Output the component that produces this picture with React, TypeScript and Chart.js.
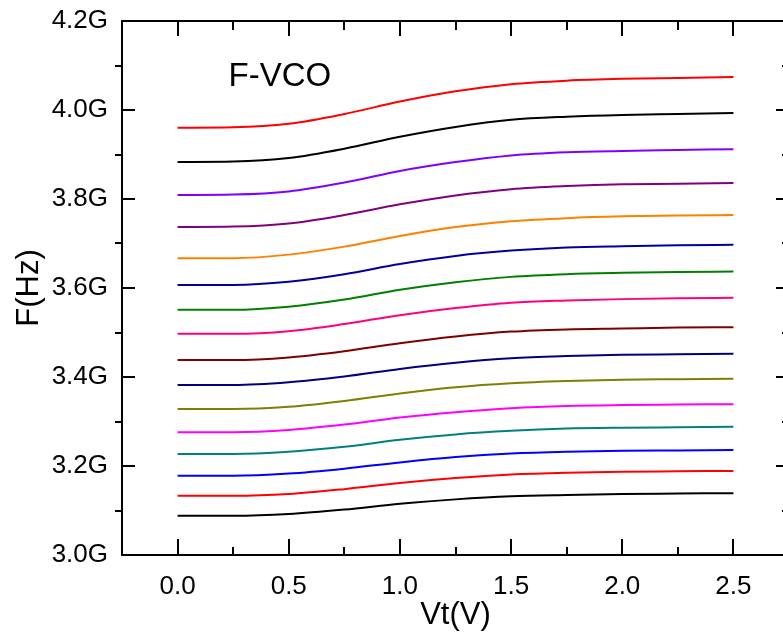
import { useEffect, useRef } from "react";
import { Chart, registerables } from "chart.js";

Chart.register(...registerables);

const FONT = "'Liberation Sans', Arial, Helvetica, sans-serif";

// Tuning voltage (V)
const vt = [0, 0.25, 0.5, 0.75, 1.0, 1.25, 1.5, 1.75, 2.0, 2.25, 2.5];

// Frequency curves in GHz (top to bottom)
const f01 = [3.960, 3.961, 3.969, 3.991, 4.019, 4.042, 4.058, 4.066, 4.070, 4.072, 4.074];
const f02 = [3.883, 3.884, 3.892, 3.913, 3.940, 3.962, 3.978, 3.985, 3.989, 3.991, 3.993];
const f03 = [3.809, 3.810, 3.817, 3.837, 3.863, 3.883, 3.898, 3.905, 3.908, 3.910, 3.912];
const f04 = [3.737, 3.738, 3.745, 3.764, 3.788, 3.808, 3.822, 3.829, 3.833, 3.834, 3.836];
const f05 = [3.667, 3.667, 3.675, 3.693, 3.717, 3.737, 3.750, 3.757, 3.761, 3.763, 3.764];
const f06 = [3.607, 3.607, 3.614, 3.631, 3.654, 3.672, 3.684, 3.691, 3.694, 3.696, 3.697];
const f07 = [3.551, 3.551, 3.558, 3.574, 3.596, 3.613, 3.625, 3.631, 3.634, 3.636, 3.637];
const f08 = [3.497, 3.497, 3.503, 3.519, 3.539, 3.555, 3.567, 3.572, 3.575, 3.577, 3.578];
const f09 = [3.438, 3.438, 3.444, 3.458, 3.476, 3.491, 3.502, 3.507, 3.509, 3.511, 3.512];
const f10 = [3.382, 3.382, 3.388, 3.401, 3.418, 3.432, 3.442, 3.447, 3.450, 3.451, 3.452];
const f11 = [3.328, 3.328, 3.333, 3.346, 3.363, 3.377, 3.386, 3.391, 3.394, 3.395, 3.396];
const f12 = [3.276, 3.276, 3.281, 3.293, 3.309, 3.321, 3.330, 3.335, 3.337, 3.338, 3.339];
const f13 = [3.227, 3.227, 3.232, 3.243, 3.259, 3.271, 3.279, 3.284, 3.286, 3.287, 3.288];
const f14 = [3.178, 3.178, 3.183, 3.194, 3.208, 3.220, 3.228, 3.232, 3.234, 3.235, 3.236];
const f15 = [3.133, 3.133, 3.137, 3.148, 3.162, 3.173, 3.181, 3.185, 3.187, 3.188, 3.189];
const f16 = [3.088, 3.088, 3.092, 3.102, 3.115, 3.125, 3.132, 3.135, 3.137, 3.138, 3.139];

const curves = [f01, f02, f03, f04, f05, f06, f07, f08, f09, f10, f11, f12, f13, f14, f15, f16];
const curveColors = [
  "#ff0000", "#000000", "#8000ff", "#800080", "#ff8000", "#0000a0", "#008000", "#ff0080",
  "#800000", "#000080", "#808000", "#ff00ff", "#008080", "#0000ff", "#ff0000", "#000000",
];

const xMajor = [0, 0.5, 1.0, 1.5, 2.0, 2.5];
const xMinor = [0.25, 0.75, 1.25, 1.75, 2.25];
const yMajor = [3.0, 3.2, 3.4, 3.6, 3.8, 4.0, 4.2];
const yMinor = [3.1, 3.3, 3.5, 3.7, 3.9, 4.1];

const annotation = "F-VCO";

const framePlugin = {
  id: "frame",
  afterDraw(chart: any) {
    const { ctx, chartArea } = chart;
    const { left, right, top, bottom } = chartArea;
    const xs = chart.scales.x;
    const ys = chart.scales.y;
    ctx.save();
    ctx.strokeStyle = "#000";
    ctx.lineWidth = 2;
    ctx.lineCap = "butt";
    ctx.beginPath();
    ctx.moveTo(right + 1, top);
    ctx.lineTo(left, top);
    ctx.lineTo(left, bottom);
    ctx.lineTo(right + 1, bottom);
    ctx.stroke();
    ctx.beginPath();
    for (const v of xMajor) {
      const px = Math.round(xs.getPixelForValue(v));
      ctx.moveTo(px, bottom); ctx.lineTo(px, bottom - 16);
      ctx.moveTo(px, top); ctx.lineTo(px, top + 15);
    }
    for (const v of xMinor) {
      const px = Math.round(xs.getPixelForValue(v));
      ctx.moveTo(px, bottom); ctx.lineTo(px, bottom - 8);
      ctx.moveTo(px, top); ctx.lineTo(px, top + 9);
    }
    for (const v of yMajor) {
      const py = Math.round(ys.getPixelForValue(v));
      ctx.moveTo(left, py); ctx.lineTo(left + 13, py);
      ctx.moveTo(right, py); ctx.lineTo(right - 13, py);
    }
    for (const v of yMinor) {
      const py = Math.round(ys.getPixelForValue(v));
      ctx.moveTo(left, py); ctx.lineTo(left - 7, py);
      ctx.moveTo(right, py); ctx.lineTo(right - 7, py);
    }
    ctx.stroke();
    ctx.fillStyle = "#000";
    ctx.font = `33px ${FONT}`;
    ctx.textAlign = "center";
    ctx.textBaseline = "alphabetic";
    ctx.fillText(annotation, xs.getPixelForValue(0.46), ys.getPixelForValue(4.054));
    ctx.restore();
  },
};

export default function App() {
  const ref = useRef<HTMLCanvasElement | null>(null);
  useEffect(() => {
    if (!ref.current) return;
    Chart.defaults.font.family = FONT;
    Chart.defaults.color = "#000";
    const chart = new Chart(ref.current, {
      type: "line",
      data: {
        datasets: curves.map((c, i) => ({
          data: vt.map((x, j) => ({ x, y: c[j] })),
          borderColor: curveColors[i],
          borderWidth: 2,
          pointRadius: 0,
          fill: false,
          cubicInterpolationMode: "monotone" as const,
        })),
      },
      options: {
        responsive: false,
        animation: false,
        devicePixelRatio: 1,
        layout: { padding: { left: 0, right: 21, top: 21, bottom: 0 } },
        plugins: { legend: { display: false }, tooltip: { enabled: false } },
        scales: {
          x: {
            type: "linear",
            min: -0.25,
            max: 2.75,
            grid: { display: false, drawTicks: false },
            border: { display: false },
            afterBuildTicks: (s: any) => { s.ticks = xMajor.map((v) => ({ value: v })); },
            afterFit: (s: any) => { s.height = 82; s.paddingLeft = 0; s.paddingRight = 0; },
            ticks: {
              padding: 16,
              font: { size: 26, family: FONT },
              color: "#000",
              callback: (v: any) => Number(v).toFixed(1),
            },
            title: {
              display: true,
              text: "Vt(V)",
              color: "#000",
              font: { size: 31, family: FONT },
              padding: { top: 0, bottom: 3 },
            },
          },
          y: {
            type: "linear",
            min: 3.0,
            max: 4.2,
            grid: { display: false, drawTicks: false },
            border: { display: false },
            afterBuildTicks: (s: any) => { s.ticks = yMajor.map((v) => ({ value: v })); },
            afterFit: (s: any) => { s.width = 122; s.paddingTop = 0; s.paddingBottom = 0; },
            ticks: {
              padding: 14,
              font: { size: 26, family: FONT },
              color: "#000",
              callback: (v: any) => Number(v).toFixed(1) + "G",
            },
            title: {
              display: true,
              text: "F(Hz)",
              color: "#000",
              font: { size: 31, family: FONT },
              padding: { top: 11, bottom: 0 },
            },
          },
        },
      },
      plugins: [framePlugin],
    });
    return () => chart.destroy();
  }, []);
  return (
    <div style={{ position: "fixed", left: 0, top: 0, width: 783, height: 637, overflow: "hidden", background: "#fff" }}>
      <canvas ref={ref} width={810} height={637} style={{ display: "block", width: 810, height: 637 }} />
    </div>
  );
}
